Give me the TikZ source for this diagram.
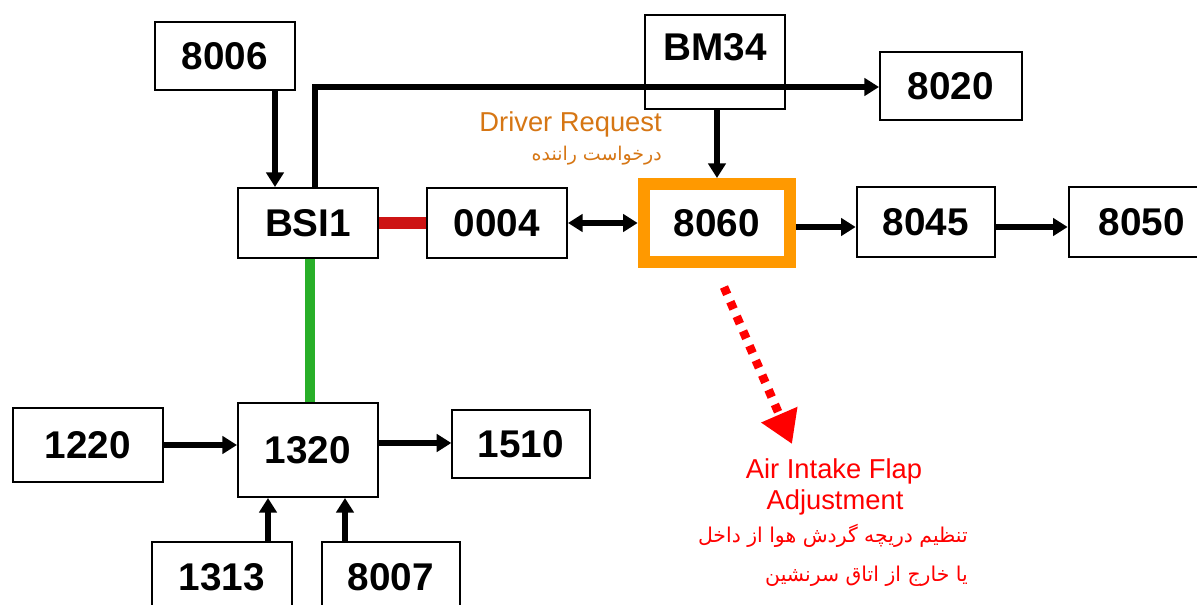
\documentclass[tikz,border=0pt]{standalone}
\usepackage{fontspec}
\setmainfont{Liberation Sans}
\newfontfamily\arabicfont[Script=Arabic]{DejaVu Sans}
\TeXXeTstate=1
\usetikzlibrary{arrows.meta}
\definecolor{txtorange}{RGB}{214,118,20}
\definecolor{frameorange}{RGB}{255,153,0}
\definecolor{busred}{RGB}{205,20,20}
\definecolor{busgreen}{RGB}{40,175,40}
\definecolor{notered}{RGB}{255,0,0}
\tikzset{
  box/.style={draw=black, line width=1.5pt, fill=white, inner sep=0pt,
    font=\bfseries\fontsize{29}{29}\selectfont},
  numtext/.style={inner sep=0pt, font=\bfseries\fontsize{29}{29}\selectfont},
  conn/.style={line width=3.8pt, -{Triangle[length=11pt,width=13pt]}},
  bicon/.style={line width=3.8pt, {Triangle[length=11pt,width=13pt]}-{Triangle[length=11pt,width=13pt]}},
}
\begin{document}
\begin{tikzpicture}[x=0.75pt,y=-0.75pt]
\useasboundingbox (0,0) rectangle (1197,605);
\fill[white] (0,0) rectangle (1197,605);
\clip (0,0) rectangle (1197,605);
% boxes
\node[box, minimum width=105pt, minimum height=51pt] (n8006) at (225,56) {8006};
\node[box, minimum width=105pt, minimum height=52.5pt] (bsi) at (308,223) {BSI1};
\node[box, minimum width=105pt, minimum height=52.5pt] (n0004) at (497,223) {0004};
\node[box, minimum width=105pt, minimum height=71pt] (bm34) at (715,62) {};
\node[numtext] (bm34t) at (715,47) {BM34};
\node[box, minimum width=106.5pt, minimum height=51pt] (n8020) at (951,86) {8020};
\node[box, minimum width=104pt, minimum height=52pt] (n8045) at (926,222) {8045};
\node[box, minimum width=110pt, minimum height=52pt] (n8050) at (1142,222) {8050};
\node[box, minimum width=113pt, minimum height=56pt] (n1220) at (88,445) {1220};
\node[box, minimum width=105pt, minimum height=70.5pt] (n1320) at (308,450) {1320};
\node[box, minimum width=103pt, minimum height=51pt] (n1510) at (521,444) {1510};
\node[box, minimum width=105pt, minimum height=60pt] (n1313) at (222,582) {};
\node[numtext] (n1313t) at (222,577) {1313};
\node[box, minimum width=104pt, minimum height=60pt] (n8007) at (391,582) {};
\node[numtext] (n8007t) at (391,577) {8007};
% 8060 with orange frame
\node[draw=frameorange, line width=9pt, fill=white, minimum width=110pt, minimum height=58.5pt, inner sep=0pt,
  font=\bfseries\fontsize{29}{29}\selectfont] (n8060) at (717,223) {8060};
% connectors
\draw[conn] (n8006.south -| 275,0) -- (bsi.north -| 275,0);
\coordinate (corner) at (315,87);
\draw[conn] (bsi.north -| corner) -- (corner) -- (corner -| n8020.west);
\draw[conn] (bm34.south -| n8060.north) -- (n8060.north);
\draw[line width=9pt, busred] (bsi.east) -- (n0004.west);
\draw[bicon] (n0004.east) -- (n8060.west);
\draw[conn] (n8060.east |- 0,227) -- (n8045.west |- 0,227);
\draw[conn] (n8045.east |- 0,227) -- (n8050.west |- 0,227);
\draw[line width=7.5pt, busgreen] (bsi.south -| 310,0) -- (n1320.north -| 310,0);
\draw[conn] (n1220.east |- 0,445) -- (n1320.west |- 0,445);
\draw[conn] (n1320.east |- 0,443) -- (n1510.west |- 0,443);
\draw[conn] (n1313.north -| 268,0) -- (n1320.south -| 268,0);
\draw[conn] (n8007.north -| 345,0) -- (n1320.south -| 345,0);
% dotted red arrow
\coordinate (dstart) at (724,287);
\coordinate (dend) at (792,444);
\draw[notered, line width=6.5pt, dash pattern=on 6pt off 6pt, -{Triangle[length=24pt,width=28pt]}] (dstart) -- (dend);
% labels
\node[anchor=base east, inner sep=0pt, text=txtorange, font=\fontsize{20.5}{20.5}\selectfont] (drv) at (662,132) {Driver Request};
\node[anchor=base east, inner sep=0pt, text=txtorange, font=\arabicfont\fontsize{14.2}{14.2}\selectfont] (drvfa) at (662,161) {\beginR درخواست راننده\endR};
\node[anchor=base, inner sep=0pt, text=notered, font=\fontsize{20.5}{20.5}\selectfont] (air1) at (834,479) {Air Intake Flap};
\node[anchor=base, inner sep=0pt, text=notered, font=\fontsize{20.5}{20.5}\selectfont] (air2) at (835,510) {Adjustment};
\node[anchor=base east, inner sep=0pt, text=notered, font=\arabicfont\fontsize{15.3}{15.3}\selectfont] (fa1) at (968,543) {\beginR تنظیم دریچه گردش هوا از داخل\endR};
\node[anchor=base east, inner sep=0pt, text=notered, font=\arabicfont\fontsize{15.3}{15.3}\selectfont] (fa2) at (968,582) {\beginR یا خارج از اتاق سرنشین\endR};
\end{tikzpicture}
\end{document}
